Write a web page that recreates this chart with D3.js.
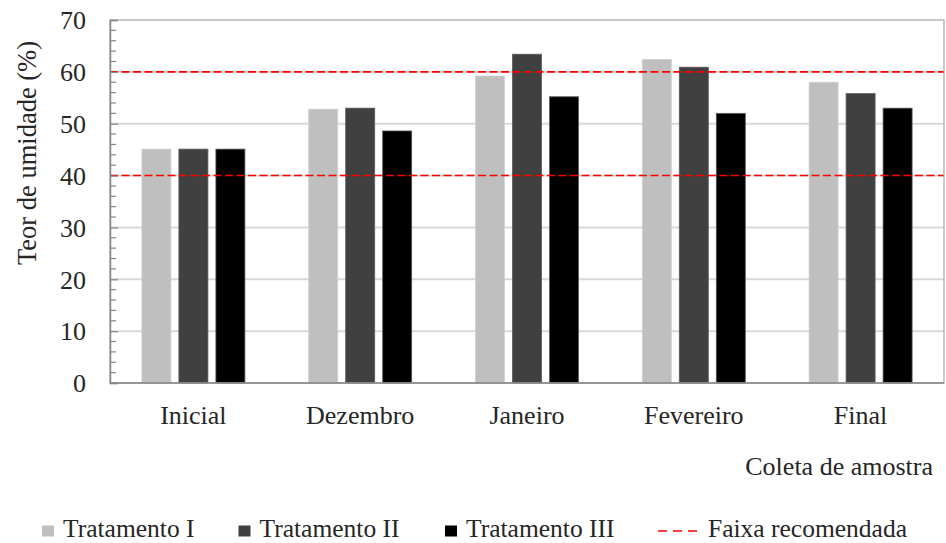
<!DOCTYPE html>
<html>
<head>
<meta charset="utf-8">
<script src="https://cdn.jsdelivr.net/npm/d3@7"></script>
<style>
  html, body { margin: 0; padding: 0; background: #fff; }
  svg text { font-family: "Liberation Serif", "Times New Roman", serif; fill: #262626; }
</style>
</head>
<body>
<svg id="chart" width="946" height="543"></svg>
<script>
// Sampling periods and moisture content (%) per treatment
const categories = ["Inicial", "Dezembro", "Janeiro", "Fevereiro", "Final"];
const seriesNames = ["Tratamento I", "Tratamento II", "Tratamento III"];
const tratamentoI   = [45.1, 52.8, 59.2, 62.4, 58.0];
const tratamentoII  = [45.1, 53.0, 63.4, 60.9, 55.8];
const tratamentoIII = [45.1, 48.6, 55.2, 52.0, 53.0];
const faixaRecomendada = [40, 60];
const yTicks = [0, 10, 20, 30, 40, 50, 60, 70];
const seriesColors = ["#bfbfbf", "#404040", "#000000"];

const seriesValues = [tratamentoI, tratamentoII, tratamentoIII];
const rows = categories.map((c, i) => ({
  cat: c,
  vals: seriesNames.map((s, j) => ({ name: s, value: seriesValues[j][i], color: seriesColors[j] }))
}));

const svg = d3.select("#chart");
const plotLeft = 110, plotRight = 944, plotTop = 20, plotBottom = 383;

const x0 = d3.scaleBand().domain(categories).range([plotLeft, plotRight]).padding(0);
const x1 = d3.scaleBand().domain(seriesNames).range([-51.5, 51.5]).paddingInner(0.216);
const y = d3.scaleLinear().domain([0, 70]).range([plotBottom, plotTop]);

// Horizontal gridlines
svg.append("g").selectAll("line").data(yTicks.filter(t => t > 0 && t < 70)).join("line")
  .attr("x1", plotLeft).attr("x2", plotRight)
  .attr("y1", d => y(d)).attr("y2", d => y(d))
  .attr("stroke", "#d9d9d9").attr("stroke-width", 2);

// Bars
const groups = svg.append("g").selectAll("g").data(rows).join("g")
  .attr("transform", d => `translate(${x0(d.cat) + x0.bandwidth() / 2},0)`);
groups.selectAll("rect").data(d => d.vals).join("rect")
  .attr("x", d => x1(d.name))
  .attr("width", x1.bandwidth())
  .attr("y", d => y(d.value))
  .attr("height", d => y(0) - y(d.value))
  .attr("fill", d => d.color)
  .attr("stroke", d => d.color === "#bfbfbf" ? "#d0d0d0" : "#5a5a5a")
  .attr("stroke-width", 0.8);

// Recommended range
svg.append("g").selectAll("line").data(faixaRecomendada).join("line")
  .attr("x1", plotLeft).attr("x2", plotRight)
  .attr("y1", d => y(d)).attr("y2", d => y(d))
  .attr("stroke", "#ff0000").attr("stroke-width", 1.6)
  .attr("stroke-dasharray", "8,3.5");

// Plot frame
svg.append("rect")
  .attr("x", plotLeft).attr("y", plotTop)
  .attr("width", plotRight - plotLeft).attr("height", plotBottom - plotTop)
  .attr("fill", "none").attr("stroke", "#a6a6a6").attr("stroke-width", 1.2);

// Left axis with inward major and minor ticks
const yAxis = d3.axisLeft(y).tickValues(yTicks).tickSize(-8).tickPadding(22).tickFormat(d3.format("d"));
const gy = svg.append("g").attr("transform", `translate(${plotLeft},0)`).call(yAxis);
gy.select(".domain").attr("stroke", "#868686").attr("stroke-width", 1.5);
gy.selectAll(".tick line").attr("stroke", "#868686").attr("stroke-width", 1.2);
gy.selectAll(".tick text").attr("font-size", 26).attr("x", -24).attr("dy", "0.34em")
  .style("font-family", '"Liberation Serif", serif').attr("fill", "#262626");

const minor = d3.range(0, 71, 2).filter(v => v % 10 !== 0);
svg.append("g").selectAll("line").data(minor).join("line")
  .attr("x1", plotLeft).attr("x2", plotLeft + 6)
  .attr("y1", d => y(d)).attr("y2", d => y(d))
  .attr("stroke", "#868686").attr("stroke-width", 1.2);

// Bottom axis line
svg.append("line").attr("x1", plotLeft).attr("x2", plotRight).attr("y1", plotBottom).attr("y2", plotBottom)
  .attr("stroke", "#868686").attr("stroke-width", 1.5);

// Category labels
svg.append("g").selectAll("text").data(categories).join("text")
  .attr("x", d => x0(d) + x0.bandwidth() / 2)
  .attr("y", 424)
  .attr("text-anchor", "middle")
  .attr("font-size", 26)
  .text(d => d);

// Axis titles
svg.append("text").attr("x", 933).attr("y", 475).attr("text-anchor", "end")
  .attr("font-size", 26).text("Coleta de amostra");
svg.append("text").attr("transform", "translate(36,153) rotate(-90)")
  .attr("text-anchor", "middle").attr("font-size", 26.5).text("Teor de umidade (%)");

// Legend
const legendItems = [
  { name: seriesNames[0], color: seriesColors[0], x: 42 },
  { name: seriesNames[1], color: seriesColors[1], x: 238.5 },
  { name: seriesNames[2], color: seriesColors[2], x: 445 }
];
const lg = svg.append("g");
legendItems.forEach(it => {
  lg.append("rect").attr("x", it.x).attr("y", 525.5).attr("width", 12).attr("height", 11).attr("fill", it.color);
  lg.append("text").attr("x", it.x + 21).attr("y", 537).attr("font-size", 25.5).text(it.name);
});
lg.append("line").attr("x1", 658).attr("x2", 697).attr("y1", 531).attr("y2", 531)
  .attr("stroke", "#ff0000").attr("stroke-width", 1.6).attr("stroke-dasharray", "9,6");
lg.append("text").attr("x", 708).attr("y", 537).attr("font-size", 25.5).text("Faixa recomendada");
</script>
</body>
</html>
